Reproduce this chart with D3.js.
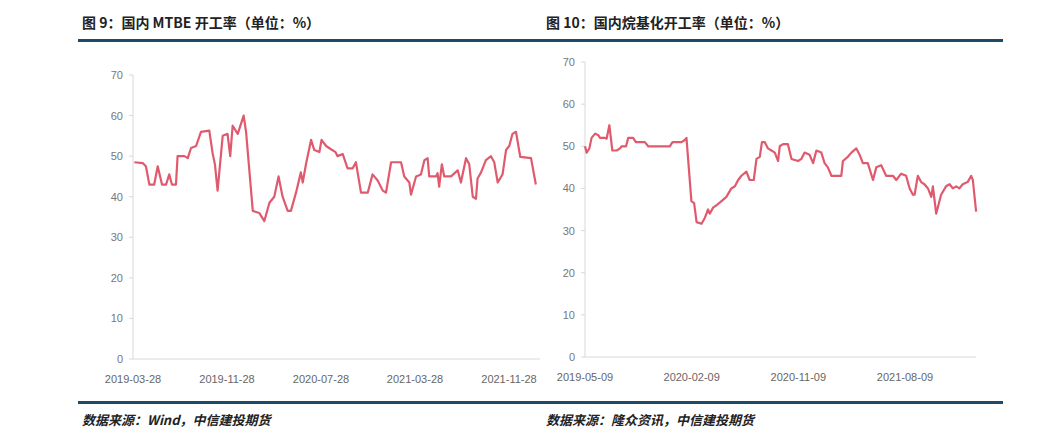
<!DOCTYPE html>
<html><head><meta charset="utf-8">
<script src="https://cdn.jsdelivr.net/npm/d3@7"></script>
<style>body{margin:0;background:#fff}</style></head>
<body><svg id="c" width="1060" height="440"></svg>
<script>
const yTicks=[0,10,20,30,40,50,60,70];
// Chart 1: MTBE, x = weeks since 2019-03-28
const mtbeWeeks=[0.5,3.6,4.8,6.1,7.9,9.2,10.8,12.3,13.5,14.5,16,16.6,19.1,20.4,21.6,23.5,25.3,28.4,29.7,30.5,31.5,33.4,35.2,36.2,37.1,39,41.2,42.1,44.6,47,48.9,50.8,52.6,54.2,55.7,57.6,58.8,60.7,62.5,63.2,64.4,66.3,67.5,69.4,70.2,71.9,73.7,75.4,76.1,78.1,79.9,81.8,83,84.9,87.4,89.2,91.1,93,94.2,96.1,99.8,101,102.9,103.5,105.4,107.2,108.5,109.7,110.3,112.8,113.4,114,115,115.9,118.4,120.9,122.1,124,125.2,126.5,127.7,128.3,129.6,131.4,133.3,134.5,135.8,137.6,138.9,140.1,141.3,142.6,144.2,148.2,150];
const mtbeValues=[48.5,48.3,47.5,43,43,47.5,43,43,45.5,43,43,50,50,49.5,52,52.5,56,56.3,50.5,48,41.5,55,55.5,50,57.5,55.5,60,56,36.5,36,34,38.5,40,45,40,36.5,36.5,41,46,43.5,48,54,51.5,51,54,52.5,51.7,51,50,50.5,47,47,48.5,41,41,45.5,44,41.5,41,48.5,48.5,45,43.5,40.5,45,45.5,49,49.5,45,45,45.8,42.5,48,45,45,46.5,43.5,49.5,48,40,39.5,44.5,46,49,50,48.5,43.5,45.5,51.5,52.5,55.5,56,49.8,49.5,43];
const mtbeTickWeeks=[0,35,70,105,140];
const mtbeTickLabels=["2019-03-28","2019-11-28","2020-07-28","2021-03-28","2021-11-28"];
// Chart 2: alkylation, x = weeks since 2019-05-09
const alkWeeks=[0,0.6,1.6,2.4,3.7,4.9,5.5,7.3,7.9,8.9,10,11.6,12.8,13.4,15,15.8,17.6,18.6,21.9,23.1,31,32,35.3,36.5,37.1,38.9,39.9,40.8,42.6,43.8,45,45.6,46.9,48.1,49.9,51.7,53.5,54.8,56,57.2,59,60.2,61.7,62.7,63.9,64.7,65.7,66.9,68.2,69.4,70.6,71.2,72.4,74.2,75.5,77.9,79.1,80.3,82.1,83.4,84.6,86.4,87.6,88.8,90.1,93.7,94.3,96.1,97.4,99.2,100.4,101.6,103.4,105.3,106.5,108.3,110.1,112.6,113.8,115.6,117.4,118.7,119.9,120.5,121.7,122.9,124.1,125.4,126.6,127.2,128.4,130.2,132,133.3,134.5,135.7,136.9,138.1,139.9,141.2,141.8,143];
const alkValues=[50,48.5,49.5,52,53,52.6,52,52,51.8,55,49,49,49.5,50,50,52,52,51,51,50,50,51,51,51.5,52,37,36.5,32,31.6,33,35,34,35.5,36,37,38,40,40.5,42,43,44,42,42,47,47.5,51,51,49.5,49,48.5,46.5,50,50.5,50.5,47,46.5,47,48.5,48,46,49,48.5,46,45,43,43,46.5,47.5,48.5,49.5,48,46,46,42,45,45.5,43,43,42,43.5,43,40,38.5,38.5,43,41.5,41,40,38,40.5,34,38.5,40.5,41,40,40.5,40,41,41.5,43,42,34.5];
const alkTickWeeks=[0,39,78,117];
const alkTickLabels=["2019-05-09","2020-02-09","2020-11-09","2021-08-09"];

const svg=d3.select("#c");
const blue="#1d4a66";
svg.append("rect").attr("x",78).attr("y",39).attr("width",925).attr("height",3).attr("fill",blue);
svg.append("rect").attr("x",78).attr("y",401).attr("width",925).attr("height",3).attr("fill",blue);
const tf="'Noto Sans CJK SC',sans-serif";
[[82,"图 9：国内 MTBE 开工率（单位：%）"],[546,"图 10：国内烷基化开工率（单位：%）"]].forEach(([x,t])=>
 svg.append("text").attr("x",x).attr("y",28).attr("font-family",tf).attr("font-weight","bold").attr("font-size",14).attr("fill","#222").text(t));
[[82,"数据来源：Wind，中信建投期货"],[546,"数据来源：隆众资讯，中信建投期货"]].forEach(([x,t])=>
 svg.append("text").attr("x",x).attr("y",425).attr("font-family",tf).attr("font-weight","bold").attr("font-style","italic").attr("font-size",13).attr("fill","#222").text(t));

function chart(x0,x1,wmax,y0,y70,weeks,vals,tw,tl,lineEnd){
  const x=d3.scaleLinear().domain([0,wmax]).range([x0,x1]);
  const y=d3.scaleLinear().domain([0,70]).range([y0,y70]);
  const g=svg.append("g");
  g.append("line").attr("x1",x0).attr("x2",x0).attr("y1",y70).attr("y2",y0).attr("stroke","#d9d9d9");
  g.append("line").attr("x1",x0).attr("x2",lineEnd).attr("y1",y0).attr("y2",y0).attr("stroke","#d9d9d9");
  yTicks.forEach(v=>{
    g.append("line").attr("x1",x0-4).attr("x2",x0).attr("y1",y(v)).attr("y2",y(v)).attr("stroke","#d9d9d9");
    g.append("text").attr("x",x0-10).attr("y",y(v)+4).attr("text-anchor","end").attr("font-family","Liberation Sans,sans-serif").attr("font-size",11).attr("fill","#777").text(v);
  });
  tw.forEach((w,i)=>g.append("text").attr("x",x(w)).attr("y",y0+24).attr("text-anchor","middle").attr("font-family","Liberation Sans,sans-serif").attr("font-size",11).attr("fill","#666").text(tl[i]));
  g.append("path").datum(weeks.map((w,i)=>[w,vals[i]])).attr("fill","none").attr("stroke","#e05a6e").attr("stroke-width",2.2).attr("stroke-linejoin","round")
   .attr("d",d3.line().x(d=>x(d[0])).y(d=>y(d[1])));
}
chart(133,509,140,359,75,mtbeWeeks,mtbeValues,mtbeTickWeeks,mtbeTickLabels,540);
chart(585,905,117,357,62,alkWeeks,alkValues,alkTickWeeks,alkTickLabels,976);
</script></body></html>
